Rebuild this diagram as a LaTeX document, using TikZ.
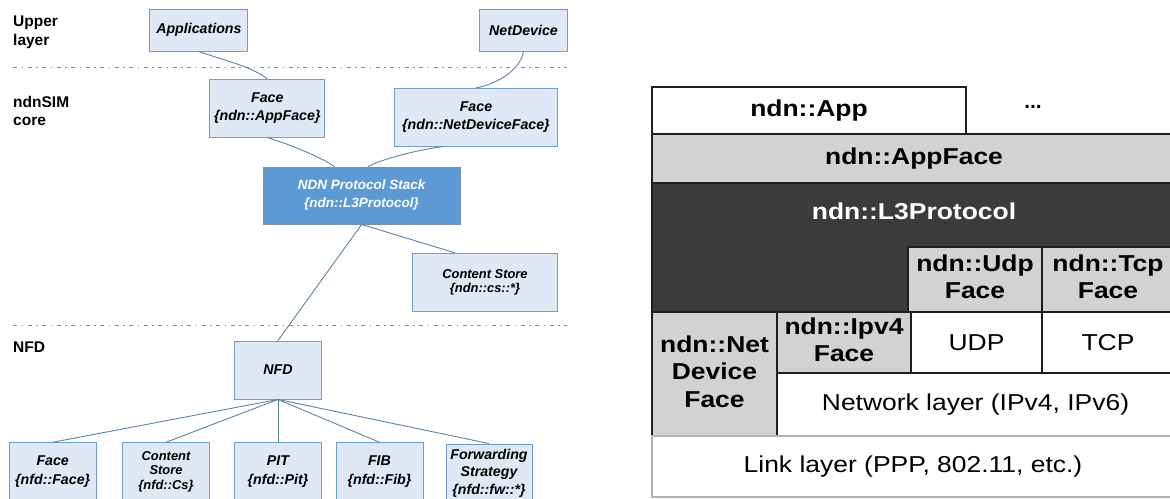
\documentclass[tikz,border=0pt]{standalone}
\usepackage{fontspec}
\setmainfont{Liberation Sans}
\definecolor{lboxfill}{HTML}{DEE9F5}
\definecolor{lboxline}{HTML}{6E9FD2}
\definecolor{stackfill}{HTML}{5C9AD6}
\definecolor{stackline}{HTML}{7C8FA3}
\definecolor{connc}{HTML}{5F82AA}
\definecolor{sepc}{HTML}{8A8A8A}
\definecolor{rgray}{HTML}{D2D2D2}
\definecolor{rdark}{HTML}{3B3B3B}
\definecolor{rline}{HTML}{1E1E1E}
\newcommand\rsx[1]{\scalebox{1.15}[1]{#1}}
\newcommand\rtwo[2]{\rsx{\begin{tabular}{@{}c@{}}#1\\#2\end{tabular}}}
\begin{document}
\begin{tikzpicture}[x=1pt,y=-1pt,
  lbox/.style={draw=lboxline, fill=lboxfill, line width=0.9pt, align=center, inner sep=1pt,
    font=\fontsize{14.2}{18.5}\selectfont\bfseries\itshape},
  sbox/.style={lbox, font=\fontsize{12.9}{14.5}\selectfont\bfseries\itshape},
  stackbox/.style={draw=stackline, fill=stackfill, line width=0.9pt, align=center, inner sep=1pt,
    text=white, font=\fontsize{13.5}{18}\selectfont\bfseries\itshape},
  lab/.style={align=left, inner sep=0pt, font=\fontsize{15.5}{18.5}\selectfont\bfseries},
  conn/.style={draw=connc, line width=0.9pt},
  sep/.style={draw=sepc, line width=1.4pt, dash pattern=on 4pt off 4.5pt on 1.5pt off 4.5pt},
  rbox/.style={draw=rline, line width=1.3pt, inner sep=0pt, align=center,
    font=\fontsize{23}{27.5}\selectfont\bfseries},
  rgbox/.style={rbox, fill=rgray},
  rwbox/.style={rbox, fill=white, font=\fontsize{23}{27.5}\selectfont},
  rdbox/.style={rbox, fill=rdark},
]
\useasboundingbox (0,0) rectangle (1170,498);
\fill[white] (0,0) rectangle (1170,498);

% ---------- left diagram ----------
\node[lab, anchor=north west] (lupper) at (13,16) {Upper\\layer};
\node[lab, anchor=north west] (lcore) at (13,96) {ndnSIM\\core};
\node[lab, anchor=north west] (lnfd) at (13,341.5) {NFD};

\draw[sep] (13,67.3) coordinate (s1a) -- (567,67.3) coordinate (s1b);
\draw[sep] (13,325.7) coordinate (s2a) -- (567,325.7) coordinate (s2b);

\node[lbox, minimum width=98pt, minimum height=41.7pt] (app) at (198.9,30.2) {Applications};
\node[lbox, minimum width=87.3pt, minimum height=41.7pt] (netdev) at (523.5,30.2) {NetDevice};
\node[lbox, minimum width=115pt, minimum height=57.7pt] (appface) at (267.3,108.2) {Face\\\{ndn::AppFace\}};
\node[lbox, minimum width=162.5pt, minimum height=57.7pt] (ndface) at (476,117.2) {Face\\\{ndn::NetDeviceFace\}};
\node[stackbox, minimum width=197.2pt, minimum height=57pt] (stack) at (361.6,195.5) {NDN Protocol Stack\\\{ndn::L3Protocol\}};
\node[sbox, minimum width=144.3pt, minimum height=58.4pt] (cs) at (485,282.5) {Content Store\\\{ndn::cs::*\}};
\node[lbox, minimum width=87pt, minimum height=58pt] (nfd) at (278,370) {NFD};

\node[lbox, minimum width=87pt, minimum height=58pt] (bface) at (52.7,471.7) {Face\\\{nfd::Face\}};
\node[sbox, minimum width=87pt, minimum height=58pt] (bcs) at (166,471.7) {Content\\Store\\\{nfd::Cs\}};
\node[lbox, minimum width=87pt, minimum height=58pt] (bpit) at (278,471.7) {PIT\\\{nfd::Pit\}};
\node[lbox, minimum width=87pt, minimum height=58pt] (bfib) at (379.5,471.7) {FIB\\\{nfd::Fib\}};
\node[lbox, minimum width=86pt, minimum height=58pt, font=\fontsize{14.2}{17.5}\selectfont\bfseries\itshape] (bfs) at (489,473) {Forwarding\\Strategy\\\{nfd::fw::*\}};

\draw[conn] (app.south) .. controls +(22,8) and +(-14,-12) .. (appface.north);
\draw[conn] (netdev.south) .. controls +(-3,18) and +(22,-4) .. (ndface.north);
\draw[conn] (appface.south) .. controls +(25,8) and +(-15,-10) .. ([xshift=-27pt]stack.north);
\draw[conn] ([xshift=-32pt]ndface.south) .. controls +(-25,3) and +(15,-8) .. ([xshift=6.5pt]stack.north);
\draw[conn] (stack.south) -- ([xshift=-30pt]cs.north);
\draw[conn] (stack.south) -- (nfd.north);
\foreach \n in {bface,bcs,bpit,bfib,bfs} \draw[conn] (nfd.south) -- (\n.north);

% ---------- right diagram ----------
\node[rdbox, minimum width=524pt, minimum height=129pt] (rl3) at (914,247.5) {};
\node[text=white, inner sep=0pt, font=\fontsize{23}{27.5}\selectfont\bfseries] (rl3t) at (914,211) {\rsx{ndn::L3Protocol}};
\node[rwbox, font=\fontsize{23}{27.5}\selectfont\bfseries, minimum width=314pt, minimum height=47pt] (rapp) at (809,110.5) {\rsx{ndn::App}};
\node[inner sep=0pt, font=\fontsize{21}{24}\selectfont\bfseries] (rdots) at (1033,107) {...};
\node[rgbox, minimum width=524pt, minimum height=49pt] (rappface) at (914,158.5) {\rsx{ndn::AppFace}};
\node[rgbox, minimum width=134pt, minimum height=65pt] (rudp) at (975,279.5) {\rtwo{ndn::Udp}{Face}};
\node[rgbox, minimum width=132pt, minimum height=65pt] (rtcp) at (1108,279.5) {\rtwo{ndn::Tcp}{Face}};
\node[rgbox, minimum width=125pt, minimum height=124pt] (rnet) at (714.5,374) {\rsx{\begin{tabular}{@{}c@{}}ndn::Net\\Device\\Face\end{tabular}}};
\node[rgbox, minimum width=134pt, minimum height=61pt] (ripv4) at (844,342.5) {\rtwo{ndn::Ipv4}{Face}};
\node[rwbox, minimum width=131pt, minimum height=61pt] (rudp2) at (976.5,342.5) {\rsx{UDP}};
\node[rwbox, minimum width=132pt, minimum height=61pt] (rtcp2) at (1108,342.5) {\rsx{TCP}};
\node[rwbox, minimum width=397pt, minimum height=63pt] (rnetl) at (975.5,404.5) {\rsx{Network layer (IPv4, IPv6)}};
\node[rwbox, draw=gray!60, minimum width=522pt, minimum height=61pt] (rlink) at (913,466.5) {\rsx{Link layer (PPP, 802.11, etc.)}};
\end{tikzpicture}
\end{document}
